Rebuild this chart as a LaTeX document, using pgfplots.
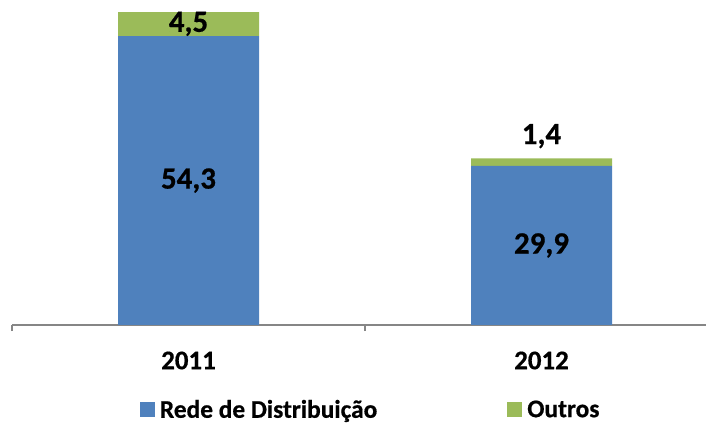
\documentclass[border=0pt]{standalone}
\usepackage{pgfplots}
\pgfplotsset{compat=1.18}
\usepackage{fontspec}
\setmainfont{Carlito}[BoldFeatures={FakeBold=0.6}]
\definecolor{blueb}{RGB}{79,129,189}
\definecolor{greenb}{RGB}{155,187,89}
\definecolor{axgray}{RGB}{134,134,134}
\begin{document}
\begin{tikzpicture}
\useasboundingbox (0,0) rectangle (706bp,423bp);
\begin{axis}[
  at={(12bp,98bp)}, anchor=south west,
  scale only axis, width=706bp, height=319.2bp,
  xmin=-0.5, xmax=1.5, ymin=0, ymax=60,
  ybar stacked, bar width=141bp,
  axis x line*=bottom, axis y line=none,
  axis line style={axgray, line width=1.2bp},
  xtick={0,1}, xticklabels={2011,2012},
  minor xtick={-0.5,0.5,1.5},
  major tick length=0pt, minor tick length=6bp, tick align=outside,
  minor tick style={axgray, line width=1.2bp},
  xticklabel style={font=\bfseries\fontsize{27}{27}\selectfont, anchor=center, yshift=-35.5bp},
  legend columns=2,
  legend style={at={(0.5066,-0.265)}, anchor=center, draw=none, fill=none,
    inner sep=0pt, font=\bfseries\fontsize{25.5}{25.5}\selectfont,
    nodes={inner sep=0pt},
    /tikz/every odd column/.append style={column sep=5bp},
    /tikz/every even column/.append style={column sep=130bp}},
  legend image code/.code={\fill[#1] (0bp,-7bp) rectangle (15bp,8bp);},
]
\addplot[fill=blueb, draw=none] coordinates {(0,54.3) (1,29.9)};
\addlegendentry{Rede de Distribuição}
\addplot[fill=greenb, draw=none] coordinates {(0,4.5) (1,1.4)};
\addlegendentry{Outros}
\end{axis}
\begin{axis}[
  at={(12bp,98bp)}, anchor=south west,
  scale only axis, width=706bp, height=319.2bp,
  xmin=-0.5, xmax=1.5, ymin=0, ymax=60,
  hide axis, clip=false,
]
\addplot[draw=none, mark=none, nodes near coords, point meta=explicit symbolic,
  every node near coord/.append style={anchor=center, font=\bfseries\fontsize{31}{31}\selectfont}]
  table[meta=label] {
x y label
0 27.15 {54,3}
0 56.6 {4,5}
1 14.95 {29,9}
1 35.5 {1,4}
};
\end{axis}
\end{tikzpicture}
\end{document}
